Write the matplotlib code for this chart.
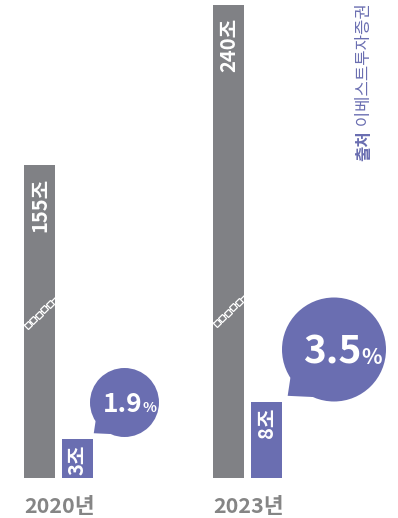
import numpy as np
import matplotlib
matplotlib.use("Agg")
import matplotlib.pyplot as plt
from matplotlib.patches import Circle, Polygon

plt.rcParams['font.family'] = ['Noto Sans CJK KR', 'DejaVu Sans']

# data
years = ['2020년', '2023년']
total_market = [155, 240]      # 조
fandom_market = [3, 8]         # 조
share = [1.9, 3.5]             # %
source = '이베스트투자증권'

gray = '#808185'
purple = '#6a6eb1'
year_color = '#858585'

W, H = 398, 518
fig = plt.figure(figsize=(W / 100, H / 100), dpi=100)

# pixel helpers: group centers at 58.5 and 247.5 px, baseline at 478 px
unit = 189.0
x0 = 58.5
base_px = 478
pos = [0, 40 / H, 1, base_px / H]
xlim = (-x0 / unit, (W - x0) / unit)
bw = 31 / unit
off = 19 / unit

x = np.arange(len(years))

# gray bars (broken scale)
ax_g = fig.add_axes(pos)
g_bottom = -11.3
ax_g.set_xlim(*xlim)
ax_g.set_ylim(g_bottom, g_bottom + base_px / 1.882)
ax_g.bar(x - off, np.array(total_market) - g_bottom, bottom=g_bottom, width=bw, color=gray)
ax_g.axis('off')

# purple bars (own scale)
ax_p = fig.add_axes(pos)
p_bottom = -2.27
ax_p.set_xlim(*xlim)
ax_p.set_ylim(p_bottom, p_bottom + base_px / 7.4)
ax_p.bar(x + off, np.array(fandom_market) - p_bottom, bottom=p_bottom, width=bw, color=purple)
ax_p.axis('off')

for i in x:
    ax_g.annotate(f'{total_market[i]}조', xy=(i - off, total_market[i]), xytext=(0, -9),
                  textcoords='offset points', rotation=90, ha='center', va='top',
                  color='white', fontsize=14.5, fontweight='bold')
    ax_p.annotate(f'{fandom_market[i]}조', xy=(i + off, fandom_market[i]), xytext=(0, -4),
                  textcoords='offset points', rotation=90, ha='center', va='top',
                  color='white', fontsize=14.5, fontweight='bold')
    ax_g.annotate(years[i], xy=(i - off - bw / 2, 0), xycoords=('data', 'axes fraction'),
                  xytext=(0, -25), textcoords='offset points', ha='left', va='baseline',
                  color=year_color, fontsize=15.5, fontweight='bold')

# overlay in pixel coordinates
ov = fig.add_axes([0, 0, 1, 1])
ov.set_xlim(0, W)
ov.set_ylim(H, 0)
ov.axis('off')

# break marks on gray bars
for i in x:
    cx = x0 + unit * i - 19
    xs = cx - 15.5 + np.array([0, 3.5, 9, 14.5, 20, 25.5, 31])
    ys = np.array([325, 325, 320, 314.5, 309, 303.5, 298]) - 2 * i
    ov.plot(xs, ys, color='white', lw=0.9)
    ov.plot(xs[1:6], ys[1:6], ls='none', marker='D', ms=4.3, mfc=gray, mec='white', mew=0.9)

# speech bubbles
bubbles = [(124.5, 402.5, 34.5), (334, 349.5, 52)]
for (cx, cy, r), s, fs in zip(bubbles, share, [19, 28]):
    ov.add_patch(Circle((cx, cy), r, color=purple, lw=0))
    a1, a2 = np.radians(147), np.radians(114)
    tip = (cx + 1.26 * r * np.cos(np.radians(135)), cy + 1.26 * r * np.sin(np.radians(135)))
    ov.add_patch(Polygon([(cx + r * np.cos(a1), cy + r * np.sin(a1)), tip,
                          (cx + r * np.cos(a2), cy + r * np.sin(a2)), (cx, cy)],
                         closed=True, color=purple, lw=0))
    jx = cx + 0.53 * r
    by = cy + 0.27 * r
    ov.text(jx, by, f'{s}', ha='right', va='baseline', color='white',
            fontsize=fs, fontweight='bold')
    ov.text(jx, by, '%', ha='left', va='baseline', color='white',
            fontsize=fs * 0.55, fontweight='bold')

# source
t1 = ov.text(364, 161, '출처', rotation=90, ha='center', va='bottom',
             color=purple, fontsize=12, fontweight='bold')
ov.annotate(' ' + source, xy=(0.5, 1), xycoords=t1, rotation=90, ha='center', va='bottom',
            color=purple, fontsize=12)

fig.savefig('out.png', dpi=100)
